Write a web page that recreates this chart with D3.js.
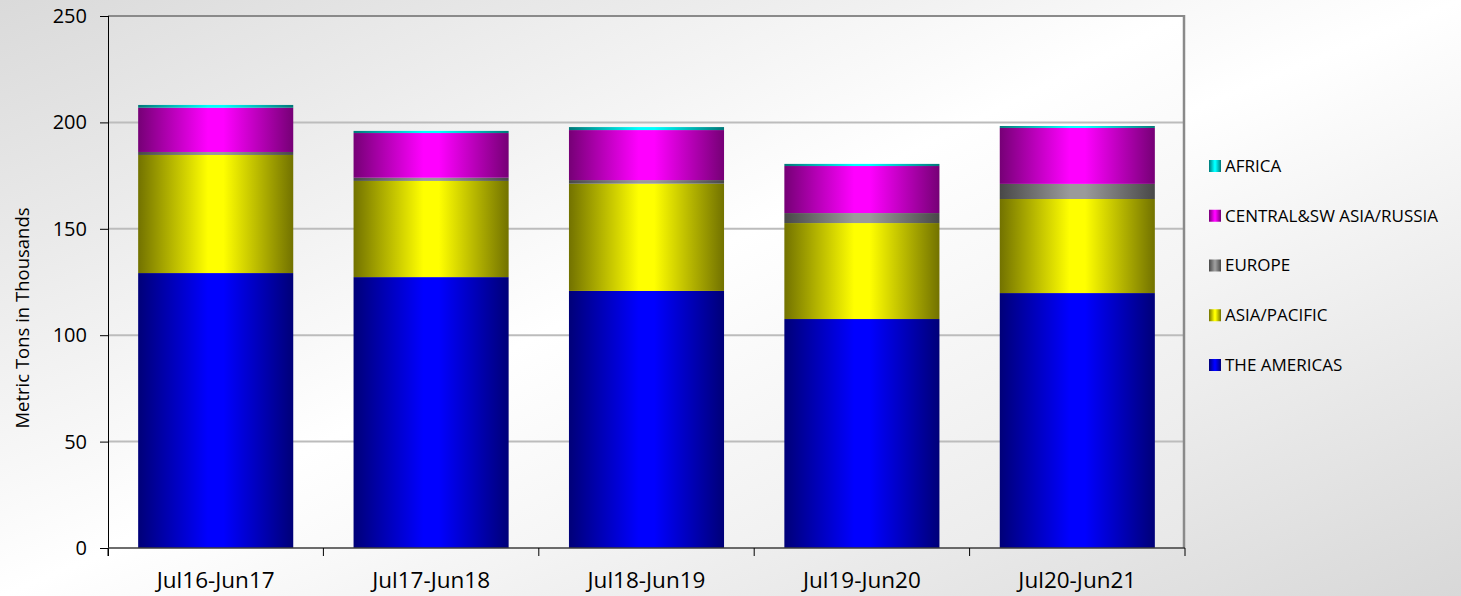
<!DOCTYPE html>
<html>
<head>
<meta charset="utf-8">
<script src="https://cdn.jsdelivr.net/npm/d3@7"></script>
<style>
  html, body { margin: 0; padding: 0; background: #fff; }
  svg { display: block; }
  text { font-family: "Open Sans", "Noto Sans", sans-serif; fill: #000; }
</style>
</head>
<body>
<svg id="chart" width="1461" height="596"></svg>
<script>
// ---------------- data ----------------
const categories = ["Jul16-Jun17", "Jul17-Jun18", "Jul18-Jun19", "Jul19-Jun20", "Jul20-Jun21"];
const theAmericas = [129.2, 127.3, 120.8, 107.6, 119.8];
const asiaPacific = [55.5, 45.2, 50.4, 45.1, 44.2];
const europe = [1.4, 1.5, 1.7, 4.7, 7.1];
const centralSwAsiaRussia = [20.8, 21.0, 23.5, 22.1, 26.3];
const africa = [1.3, 1.0, 1.4, 1.0, 0.9];
const seriesNames = ["THE AMERICAS", "ASIA/PACIFIC", "EUROPE", "CENTRAL&SW ASIA/RUSSIA", "AFRICA"];
const yTicks = [0, 50, 100, 150, 200, 250];
const yTitle = "Metric Tons in Thousands";

// ---------------- styles ----------------
const seriesColors = {
  "THE AMERICAS": ["#000078", "#0000ff"],
  "ASIA/PACIFIC": ["#727200", "#ffff00"],
  "EUROPE": ["#484848", "#9a9a9a"],
  "CENTRAL&SW ASIA/RUSSIA": ["#760076", "#ff00ff"],
  "AFRICA": ["#007878", "#00ffff"]
};

const seriesValues = [theAmericas, asiaPacific, europe, centralSwAsiaRussia, africa];
const table = categories.map((c, i) => {
  const row = { category: c };
  seriesNames.forEach((s, k) => row[s] = seriesValues[k][i]);
  return row;
});

const svg = d3.select("#chart");
const W = 1461, H = 596;
const plot = { left: 108, right: 1185, top: 16, bottom: 548 };

const defs = svg.append("defs");
const bg = defs.append("linearGradient").attr("id", "bgGrad")
  .attr("x1", 0).attr("y1", 0).attr("x2", 1).attr("y2", 1);
bg.append("stop").attr("offset", "0%").attr("stop-color", "#dadada");
bg.append("stop").attr("offset", "50%").attr("stop-color", "#ffffff");
bg.append("stop").attr("offset", "100%").attr("stop-color", "#d8d8d8");

const pg = defs.append("linearGradient").attr("id", "plotGrad")
  .attr("x1", 0).attr("y1", 0).attr("x2", 1).attr("y2", 1);
pg.append("stop").attr("offset", "0%").attr("stop-color", "#e0e0e0");
pg.append("stop").attr("offset", "50%").attr("stop-color", "#ffffff");
pg.append("stop").attr("offset", "100%").attr("stop-color", "#e8e8e8");

seriesNames.forEach((s, k) => {
  const g = defs.append("linearGradient").attr("id", "g" + k)
    .attr("x1", 0).attr("y1", 0).attr("x2", 1).attr("y2", 0);
  const [dark, bright] = seriesColors[s];
  g.append("stop").attr("offset", "0%").attr("stop-color", dark);
  g.append("stop").attr("offset", "45%").attr("stop-color", bright);
  g.append("stop").attr("offset", "55%").attr("stop-color", bright);
  g.append("stop").attr("offset", "100%").attr("stop-color", dark);
});

svg.append("rect").attr("width", W).attr("height", H).attr("fill", "url(#bgGrad)");
svg.append("rect").attr("x", plot.left).attr("y", plot.top)
  .attr("width", plot.right - plot.left).attr("height", plot.bottom - plot.top)
  .attr("fill", "url(#plotGrad)");

const x = d3.scaleBand().domain(categories).range([plot.left, plot.right])
  .paddingInner(0.28).paddingOuter(0.14);
const y = d3.scaleLinear().domain([0, 250]).range([plot.bottom, plot.top]);

// gridlines
svg.append("g").selectAll("line").data(yTicks.filter(t => t > 0 && t < 250)).join("line")
  .attr("x1", plot.left).attr("x2", plot.right)
  .attr("y1", d => y(d)).attr("y2", d => y(d))
  .attr("stroke", "#bcbcbc").attr("stroke-width", 2);

// bars
const stack = d3.stack().keys(seriesNames)(table);
svg.append("g").selectAll("g").data(stack).join("g")
  .attr("fill", (d, k) => `url(#g${k})`)
  .selectAll("rect").data(d => d).join("rect")
  .attr("x", d => x(d.data.category))
  .attr("width", x.bandwidth())
  .attr("y", d => y(d[1]))
  .attr("height", d => y(d[0]) - y(d[1]));

// plot border (top & right)
svg.append("line").attr("x1", plot.left).attr("x2", plot.right)
  .attr("y1", plot.top).attr("y2", plot.top)
  .attr("stroke", "#8a8a8a").attr("stroke-width", 2);
svg.append("line").attr("x1", plot.right - 1).attr("x2", plot.right - 1)
  .attr("y1", plot.top - 1).attr("y2", plot.bottom)
  .attr("stroke", "#8a8a8a").attr("stroke-width", 2.5);

// y axis
const yAxis = d3.axisLeft(y).tickValues(yTicks).tickSize(8).tickPadding(13);
const gy = svg.append("g").attr("transform", `translate(${plot.left},0)`).call(yAxis);
gy.select(".domain").remove();
gy.selectAll(".tick line").attr("stroke", "#000");
gy.selectAll("text").style("font-size", "20px").attr("fill", "#111");
svg.append("line").attr("x1", plot.left + 0.5).attr("x2", plot.left + 0.5)
  .attr("y1", plot.top).attr("y2", plot.bottom + 8)
  .attr("stroke", "#000").attr("stroke-width", 1);

// x axis
svg.append("line").attr("x1", plot.left).attr("x2", plot.right)
  .attr("y1", plot.bottom).attr("y2", plot.bottom)
  .attr("stroke", "#3c3c3c").attr("stroke-width", 1.5);
const step = x.step();
const boundaries = d3.range(categories.length + 1).map(i => x(categories[0]) - step * x.paddingInner() / 2 + i * step);
svg.append("g").selectAll("line").data(boundaries).join("line")
  .attr("x1", d => d).attr("x2", d => d)
  .attr("y1", plot.bottom).attr("y2", plot.bottom + 8)
  .attr("stroke", "#000").attr("stroke-width", 1);
svg.append("g").selectAll("text").data(categories).join("text")
  .attr("x", d => x(d) + x.bandwidth() / 2)
  .attr("y", 588)
  .attr("text-anchor", "middle")
  .style("font-size", "22.5px")
  .text(d => d);

// y title
svg.append("text")
  .attr("transform", `translate(29,318) rotate(-90)`)
  .attr("text-anchor", "middle")
  .style("font-size", "18.5px")
  .text(yTitle);

// legend
const legendOrder = seriesNames.slice().reverse();
const lg = svg.append("g").selectAll("g").data(legendOrder).join("g")
  .attr("transform", (d, i) => `translate(1209,${166 + i * 49.75})`);
lg.append("rect").attr("x", 0).attr("y", -6).attr("width", 12).attr("height", 12)
  .attr("fill", d => `url(#g${seriesNames.indexOf(d)})`);
lg.append("text").attr("x", 16).attr("y", 0).attr("dy", "0.35em")
  .style("font-size", "17px")
  .text(d => d);
</script>
</body>
</html>
